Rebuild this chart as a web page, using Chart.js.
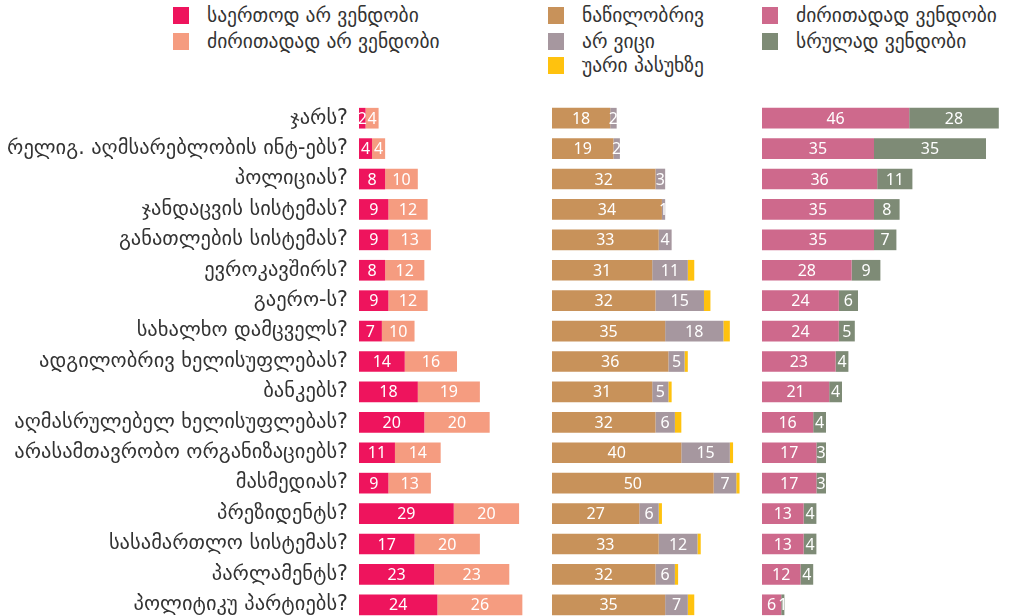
<!DOCTYPE html>
<html>
<head>
<meta charset="utf-8">
<script src="https://cdn.jsdelivr.net/npm/chart.js@4.4.0/dist/chart.umd.min.js"></script>
<style>
  html,body{margin:0;padding:0;background:#fff;overflow:hidden}
  body{width:1017px;height:616px;position:relative;font-family:"DejaVu Sans",sans-serif}
  .panel{position:absolute;top:103px;height:517px}
  .legend{position:absolute;top:0;left:0;width:1017px;height:90px}
  .lg{position:absolute;display:flex;align-items:center;font-size:19.5px;color:#333;white-space:nowrap;height:20px}
  .lg i{display:inline-block;width:16px;height:17px;margin-right:18px}
</style>
</head>
<body>
<div class="legend" id="legend"></div>
<div class="panel" style="left:0;width:540px"><canvas id="ch-left"></canvas></div>
<div class="panel" style="left:552px;width:194px"><canvas id="ch-mid"></canvas></div>
<div class="panel" style="left:762px;width:240px"><canvas id="ch-right"></canvas></div>
<script>
// ===================== DATA =====================
const kitkhva=['ჯარს?','რელიგ. აღმსარებლობის ინტ-ებს?','პოლიციას?','ჯანდაცვის სისტემას?','განათლების სისტემას?','ევროკავშირს?','გაერო-ს?','სახალხო დამცველს?','ადგილობრივ ხელისუფლებას?','ბანკებს?','აღმასრულებელ ხელისუფლებას?','არასამთავრობო ორგანიზაციებს?','მასმედიას?','პრეზიდენტს?','სასამართლო სისტემას?','პარლამენტს?','პოლიტიკუ პარტიებს?'];

const saertodAr=[2,4,8,9,9,8,9,7,14,18,20,11,9,29,17,23,24];
const dziritadadAr=[4,4,10,12,13,12,12,10,16,19,20,14,13,20,20,23,26];
const natsilobriv=[18,19,32,34,33,31,32,35,36,31,32,40,50,27,33,32,35];
const arVici=[2,2,3,1,4,11,15,18,5,5,6,15,7,6,12,6,7];
const uari=[0,0,0,0,0,2,2,2,1,1,2,1,1,1,1,1,2];
const dziritadadVendobi=[46,35,36,35,35,28,24,24,23,21,16,17,17,13,13,12,6];
const srulad=[28,35,11,8,7,9,6,5,4,4,4,3,3,4,4,4,1];

const seriesNames=['საერთოდ არ ვენდობი','ძირითადად არ ვენდობი','ნაწილობრივ','არ ვიცი','უარი პასუხზე','ძირითადად ვენდობი','სრულად ვენდობი'];
const seriesColors=['#EE145D','#F59C80','#C8925A','#A6979F','#FFC20E','#CE698C','#7E8B76'];

// ===================== LEGEND =====================
const legPos=[[173,5],[173,31],[548,5],[548,31],[548,55],[762,5],[762,31]];
const leg=document.getElementById('legend');
seriesNames.forEach((n,i)=>{
  const d=document.createElement('div');
  d.className='lg';
  d.style.left=legPos[i][0]+'px';d.style.top=legPos[i][1]+'px';
  d.innerHTML=`<i style="background:${seriesColors[i]}"></i>${n}`;
  leg.appendChild(d);
});

// ===================== CHARTS =====================
const valueLabels={
  id:'valueLabels',
  afterDatasetsDraw(chart){
    const ctx=chart.ctx;
    ctx.save();
    ctx.fillStyle='#fff';
    ctx.font='16px "Noto Sans", "DejaVu Sans", sans-serif';
    ctx.textAlign='center';ctx.textBaseline='middle';
    chart.data.datasets.forEach((ds,i)=>{
      if(ds.noLabel) return;
      chart.getDatasetMeta(i).data.forEach((bar,j)=>{
        const v=ds.data[j];
        if(!v) return;
        ctx.fillText(String(v),(bar.x+bar.base)/2,bar.y+1);
      });
    });
    ctx.restore();
  }
};

function mkChart(id,sets,xMax,withLabels){
  const yAxis={stacked:true,display:withLabels,
    grid:{display:false,drawTicks:false},border:{display:false},
    ticks:{color:'#333',padding:11,font:{family:'"DejaVu Sans", sans-serif',size:20.5}}
  };
  // ancho fijo del eje de etiquetas, sin relleno arriba/abajo
  if(withLabels) yAxis.afterFit=s=>{s.width=359;s.paddingTop=0;s.paddingBottom=0;};
  return new Chart(document.getElementById(id),{
    type:'bar',
    data:{labels:kitkhva,datasets:sets.map(s=>({
      label:s.label,data:s.data,backgroundColor:s.color,noLabel:s.noLabel,
      borderWidth:0,barPercentage:0.68,categoryPercentage:1
    }))},
    options:{
      indexAxis:'y',responsive:true,maintainAspectRatio:false,animation:false,
      layout:{padding:0},
      plugins:{legend:{display:false},tooltip:{enabled:false}},
      scales:{
        x:{stacked:true,display:false,min:0,max:xMax},
        y:yAxis
      }
    },
    plugins:[valueLabels]
  });
}

mkChart('ch-left',[
  {label:seriesNames[0],data:saertodAr,color:seriesColors[0]},
  {label:seriesNames[1],data:dziritadadAr,color:seriesColors[1]}
],55.4,true);

mkChart('ch-mid',[
  {label:seriesNames[2],data:natsilobriv,color:seriesColors[2]},
  {label:seriesNames[3],data:arVici,color:seriesColors[3]},
  {label:seriesNames[4],data:uari,color:seriesColors[4],noLabel:true}
],60,false);

mkChart('ch-right',[
  {label:seriesNames[5],data:dziritadadVendobi,color:seriesColors[5]},
  {label:seriesNames[6],data:srulad,color:seriesColors[6]}
],75,false);
</script>
</body>
</html>
